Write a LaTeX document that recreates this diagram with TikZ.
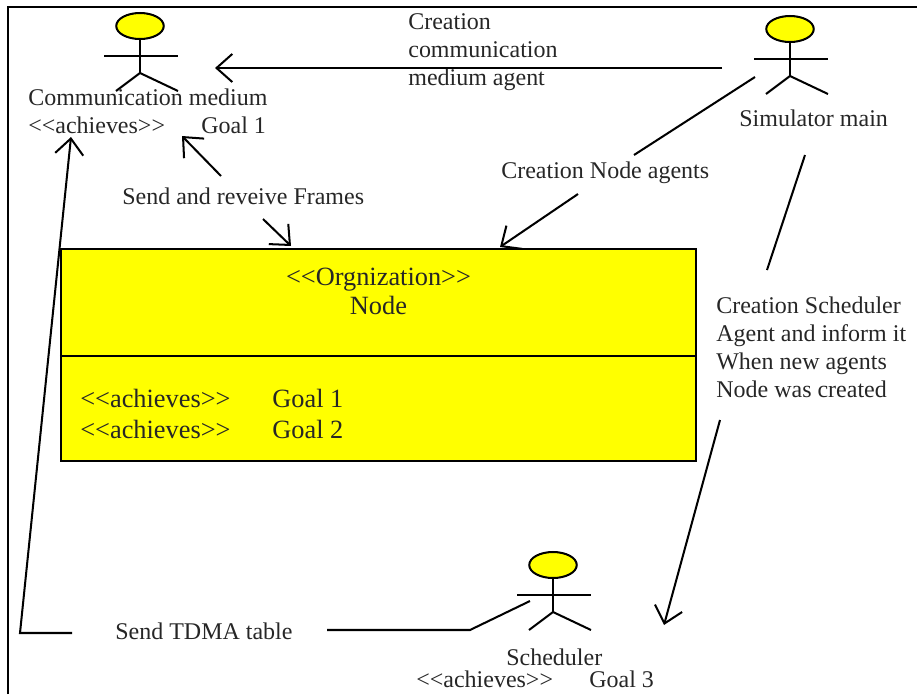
\documentclass[tikz,border=0pt]{standalone}
\usepackage{fontspec}
\setmainfont{Liberation Serif}
\usetikzlibrary{arrows.meta, shapes.geometric}
\newcommand{\scalepx}{*0.5692pt}
\definecolor{actoryellow}{RGB}{255,255,0}
\tikzset{
    link/.style={line width=1.15pt},
    linkarrow/.style={link,-{Straight Barb[length=9pt,width=16pt,line width=1.15pt]}},
    label/.style={inner sep=0pt,text=black!85,anchor=base west,font=\fontsize{13.65}{15}\selectfont},
    boxlabel/.style={label,font=\fontsize{15}{17}\selectfont},
    actorhead/.style={draw=black,line width=1.15pt,fill=actoryellow,ellipse,inner sep=0pt,minimum width=47.5\scalepx,minimum height=26\scalepx},
}
\begin{document}
\begin{tikzpicture}[x=0.02cm,y=-0.02cm]
\useasboundingbox (0,0) rectangle (917,694);
\draw[line width=1.15pt] (8,694) -- (8,7) -- (917,7);

% actors
\foreach \name/\cx/\cy in {comm/140/26, sim/790/29, sched/553/565} {
    \node[actorhead] (\name head) at (\cx,\cy) {};
    \coordinate (\name hip) at (\cx,\cy+47);
    \draw[link] (\name head.south) -- (\name hip);
    \draw[link] (\cx-36,\cy+30) -- (\cx+38,\cy+30);
    \draw[link] (\cx-24,\cy+65) -- (\name hip) -- (\cx+38,\cy+65);
}

% organization box
\node[draw=black,line width=1.15pt,fill=actoryellow,minimum width=635\scalepx,minimum height=212\scalepx,inner sep=0pt] (orgbox) at (378.5,355) {};
\draw[link] (orgbox.west |- 0,356) -- (orgbox.east |- 0,356);
\node[boxlabel,anchor=base] (orgtitle) at (378.5,285) {<{}<Orgnization>{}>};
\node[boxlabel,anchor=base] (orgname) at (378.5,314) {Node};
\node[boxlabel] (achieve1) at (80,407) {<{}<achieves>{}>};
\node[boxlabel] (achieve2) at (80,438) {<{}<achieves>{}>};
\node[boxlabel] (goal1) at (272,407) {Goal 1};
\node[boxlabel] (goal2) at (272,438) {Goal 2};

% texts
\node[label] (commname) at (28,105) {Communication medium};
\node[label] (commachieve) at (28,133) {<{}<achieves>{}>};
\node[label] (commgoal) at (201,133) {Goal 1};
\node[label] (simname) at (739,126) {Simulator main};
\node[label] (schedname) at (506,665) {Scheduler};
\node[label] (schedachieve) at (416,687) {<{}<achieves>{}>};
\node[label] (schedgoal) at (589,687) {Goal 3};
\node[label] (create1a) at (408,29) {Creation};
\node[label] (create1b) at (408,57) {communication};
\node[label] (create1c) at (408,85) {medium agent};
\node[label] (create2) at (501,178) {Creation Node agents};
\node[label] (sendframes) at (122,204) {Send and reveive Frames};
\node[label] (create3a) at (716,313) {Creation Scheduler};
\node[label] (create3b) at (716,341) {Agent and inform it};
\node[label] (create3c) at (716,369) {When new agents};
\node[label] (create3d) at (716,397) {Node was created};
\node[label] (sendtdma) at (115,639) {Send TDMA table};

% connector ends
\coordinate (c1s) at (722,68);  \coordinate (c1e) at (215,68);
\coordinate (c2s) at (755,77);  \coordinate (c2e) at (634,155);
\coordinate (c3s) at (578,194); \coordinate (c3e) at (500,247);
\coordinate (c4s) at (221,176); \coordinate (c4e) at (182,136);
\coordinate (c5s) at (263,219); \coordinate (c5e) at (291,246);
\coordinate (c6s) at (805,155); \coordinate (c6e) at (767,270);
\coordinate (c7s) at (720,420); \coordinate (c7e) at (664,625);
\coordinate (c8s) at (530,601); \coordinate (c8m) at (470,630); \coordinate (c8e) at (327,630);
\coordinate (c9s) at (72,633);  \coordinate (c9m) at (20,633);  \coordinate (c9e) at (71,137);

\draw[linkarrow] (c1s) -- (c1e);
\draw[link] (c2s) -- (c2e);
\draw[linkarrow] (c3s) -- (c3e);
\draw[linkarrow] (c4s) -- (c4e);
\draw[linkarrow] (c5s) -- (c5e);
\draw[link] (c6s) -- (c6e);
\draw[linkarrow] (c7s) -- (c7e);
\draw[link] (c8s) -- (c8m) -- (c8e);
\draw[linkarrow] (c9s) -- (c9m) -- (c9e);
\end{tikzpicture}
\end{document}
